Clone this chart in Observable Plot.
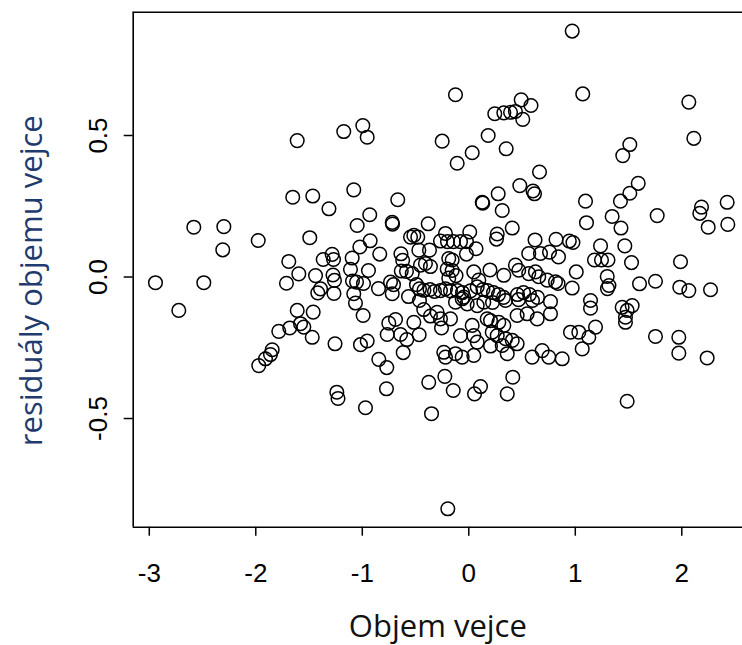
<!DOCTYPE html>
<html>
<head>
<meta charset="utf-8">
<script src="https://cdn.jsdelivr.net/npm/d3@7"></script>
<script src="https://cdn.jsdelivr.net/npm/@observablehq/plot@0.6"></script>
<style>
  html, body { margin: 0; padding: 0; background: #fff; overflow: hidden; }
  #chart svg { display: block; }
</style>
</head>
<body>
<div id="chart"></div>
<script>
// Objem vejce (x) and residuály objemu vejce (y)
const objem = [
  -2.582,-2.300,-2.310,-1.977,-1.611,-1.653,-1.465,-1.313,-1.493,-1.690,
  -2.942,-2.488,-2.723,-1.596,-1.712,-1.439,-1.367,-1.283,-1.270,-1.275,
  -1.261,-1.392,-1.418,-1.266,-1.611,-1.461,-1.580,-1.549,-1.681,-1.784,
  -1.470,-1.256,-1.846,-1.862,-1.909,-1.972,-1.239,-1.228,
  -1.174,-0.995,-0.954,-0.125,-0.250,-0.109,0.032,0.182,0.351,0.244,
  0.329,0.392,0.438,0.492,0.584,0.507,0.664,0.479,0.603,0.617,
  -1.080,-0.667,0.126,0.131,0.276,0.314,0.408,0.267,0.260,-0.930,
  -1.048,-0.719,-0.716,-0.381,-0.926,-1.023,-0.836,-1.095,-0.637,-0.621,
  -0.516,-0.479,-0.547,-0.219,-0.266,-0.200,-0.144,-0.078,-0.022,0.009,
  0.068,-0.022,-0.469,-0.369,-0.188,-0.156,-0.454,-0.407,-0.360,-0.634,
  -0.585,-0.531,-1.111,-0.942,-1.092,-1.054,-0.989,-0.848,-1.080,-1.064,
  -0.992,-0.735,-0.707,-0.719,-0.566,-0.463,-0.491,-0.463,
  -0.421,-0.364,-0.322,-0.266,-0.219,-0.172,-0.106,-0.059,0.016,0.079,0.133,-0.047,
  -0.516,-0.423,-0.360,-0.297,-0.266,-0.256,-0.751,-0.688,-0.766,-0.641,
  -0.582,-0.616,-0.466,-1.017,-0.954,-0.845,-0.770,-0.970,-0.773,-0.376,
  -0.225,-0.146,-0.350,0.110,0.054,0.361,0.413,-0.197,
  -0.203,-0.156,-0.120,-0.188,0.047,0.094,0.199,
  -0.125,-0.062,-0.015,0.079,0.141,-0.172,0.032,0.173,
  -0.078,0.047,0.079,0.047,-0.235,-0.219,-0.125,-0.062,0.204,
  0.329,0.438,0.469,0.563,0.626,0.657,0.736,0.814,0.838,
  0.176,0.232,0.279,0.326,0.223,0.345,0.457,0.467,0.514,0.570,0.598,0.645,
  0.454,0.548,0.642,0.767,0.204,0.282,0.329,0.220,0.267,0.345,0.408,0.454,
  0.314,0.361,0.595,0.689,0.751,0.877,0.955,1.033,1.127,1.190,1.065,
  1.143,1.143,1.440,1.487,1.534,1.471,1.471,0.767,
  0.622,0.563,0.673,0.758,0.842,0.819,0.944,0.978,1.237,1.465,
  1.180,1.246,1.307,1.528,1.429,1.009,0.971,1.300,1.316,1.302,
  1.603,1.753,1.988,1.981,2.066,2.270,1.753,1.972,1.972,2.238,1.487,
  0.971,1.070,2.066,2.113,1.512,1.446,1.591,1.512,1.424,1.096,1.105,
  1.346,1.769,2.185,2.169,2.426,2.248,2.432
];
const residualy = [
  0.176,0.178,0.096,0.129,0.482,0.282,0.286,0.241,0.139,0.055,
  -0.020,-0.020,-0.118,0.011,-0.022,0.005,0.062,0.080,0.062,0.007,
  -0.012,-0.042,-0.056,-0.058,-0.118,-0.124,-0.165,-0.177,-0.180,-0.192,
  -0.213,-0.236,-0.257,-0.274,-0.289,-0.313,-0.407,-0.429,
  0.514,0.535,0.494,0.644,0.480,0.402,0.439,0.500,0.453,0.577,
  0.580,0.582,0.585,0.626,0.606,0.557,0.371,0.323,0.304,0.294,
  0.308,0.273,0.264,0.261,0.294,0.235,0.173,0.152,0.134,0.220,
  0.182,0.193,0.187,0.188,0.128,0.106,0.081,0.067,0.082,0.059,
  0.147,0.141,0.141,0.154,0.127,0.125,0.125,0.125,0.125,0.159,
  0.100,0.081,0.095,0.095,0.065,0.060,0.042,0.048,0.037,0.021,
  0.020,0.012,0.027,0.023,-0.014,-0.018,-0.023,-0.041,-0.059,-0.092,
  -0.136,-0.018,-0.027,-0.059,-0.069,-0.083,-0.027,-0.042,
  -0.047,-0.044,-0.051,-0.048,-0.042,-0.049,-0.048,-0.055,-0.049,-0.035,-0.044,-0.071,
  -0.160,-0.115,-0.138,-0.125,-0.148,-0.180,-0.163,-0.150,-0.203,-0.203,
  -0.221,-0.267,-0.204,-0.239,-0.226,-0.291,-0.320,-0.462,-0.395,-0.372,
  -0.351,-0.401,-0.483,-0.387,-0.413,-0.413,-0.354,-0.819,
  0.028,0.023,0.005,-0.004,0.018,-0.011,0.025,
  -0.089,-0.077,-0.095,-0.101,-0.089,-0.148,-0.171,-0.148,
  -0.207,-0.207,-0.230,-0.277,-0.266,-0.283,-0.271,-0.283,-0.244,
  0.006,0.042,0.024,0.012,0.018,0.001,-0.011,-0.017,-0.023,
  -0.048,-0.055,-0.062,-0.072,-0.090,-0.083,-0.062,-0.080,-0.055,-0.062,-0.083,-0.072,
  -0.136,-0.130,-0.148,-0.130,-0.154,-0.160,-0.171,-0.195,-0.207,-0.218,-0.224,-0.236,
  -0.242,-0.271,-0.283,-0.260,-0.283,-0.289,-0.195,-0.195,-0.213,-0.177,-0.254,
  -0.083,-0.110,-0.107,-0.118,-0.101,-0.142,-0.160,-0.087,
  0.131,0.083,0.083,0.088,0.071,0.133,0.127,0.122,0.110,0.110,
  0.060,0.060,0.060,0.051,0.173,0.018,-0.039,0.002,-0.030,-0.041,
  -0.024,-0.015,0.054,-0.036,-0.048,-0.045,-0.210,-0.213,-0.269,-0.286,-0.439,
  0.869,0.647,0.618,0.490,0.468,0.429,0.331,0.296,0.268,0.268,0.192,
  0.214,0.217,0.247,0.225,0.264,0.176,0.186
];
const xTicks = [-3, -2, -1, 0, 1, 2];
const yTicks = [-0.5, 0.0, 0.5];
const xTitle = "Objem vejce";
const yTitle = "residuály objemu vejce";

const points = objem.map((x, i) => ({x, y: residualy[i]}));
const xDomain = [-3.151, 2.570];
const yDomain = [-0.884, 0.9357];
const tickFont = "'Liberation Sans', Arial, sans-serif";
const titleFont = "'Open Sans', 'Noto Sans', sans-serif";

const chart = Plot.plot({
  width: 742,
  height: 645,
  marginLeft: 132.7,
  marginRight: 0,
  marginTop: 11.7,
  marginBottom: 118.3,
  style: {background: "#fff", color: "#000", fontFamily: tickFont},
  x: {domain: xDomain, axis: null},
  y: {domain: yDomain, axis: null},
  marks: [
    Plot.axisX(xTicks, {
      tickSize: 9, tickPadding: 27, fontSize: 26, strokeWidth: 1.5,
      tickFormat: d => String(d), label: null, fontFamily: tickFont
    }),
    Plot.axisY(yTicks, {
      tickSize: 9, tickFormat: () => "", label: null, strokeWidth: 1.5
    }),
    Plot.text(yTicks, {
      y: d => d, frameAnchor: "left", dx: -35, rotate: -90,
      text: d => d.toFixed(1), fontSize: 26, textAnchor: "middle",
      fontFamily: tickFont, fill: "#000"
    }),
    Plot.ruleY([yDomain[0], yDomain[1]], {stroke: "#000", strokeWidth: 1.6}),
    Plot.ruleX([xDomain[0]], {stroke: "#000", strokeWidth: 1.6}),
    Plot.dot(points, {x: "x", y: "y", r: 6.8, stroke: "#000", strokeWidth: 1.5, fill: "none"}),
    Plot.text([xTitle], {
      frameAnchor: "bottom", dy: 110, fontSize: 31, fontFamily: titleFont,
      fill: "#111", textAnchor: "middle"
    }),
    Plot.text([yTitle], {
      frameAnchor: "left", dx: -101, dy: 11, rotate: -90, fontSize: 31,
      fontFamily: titleFont, fill: "#1f3b6e", textAnchor: "middle"
    })
  ]
});
document.getElementById("chart").appendChild(chart);
</script>
</body>
</html>
